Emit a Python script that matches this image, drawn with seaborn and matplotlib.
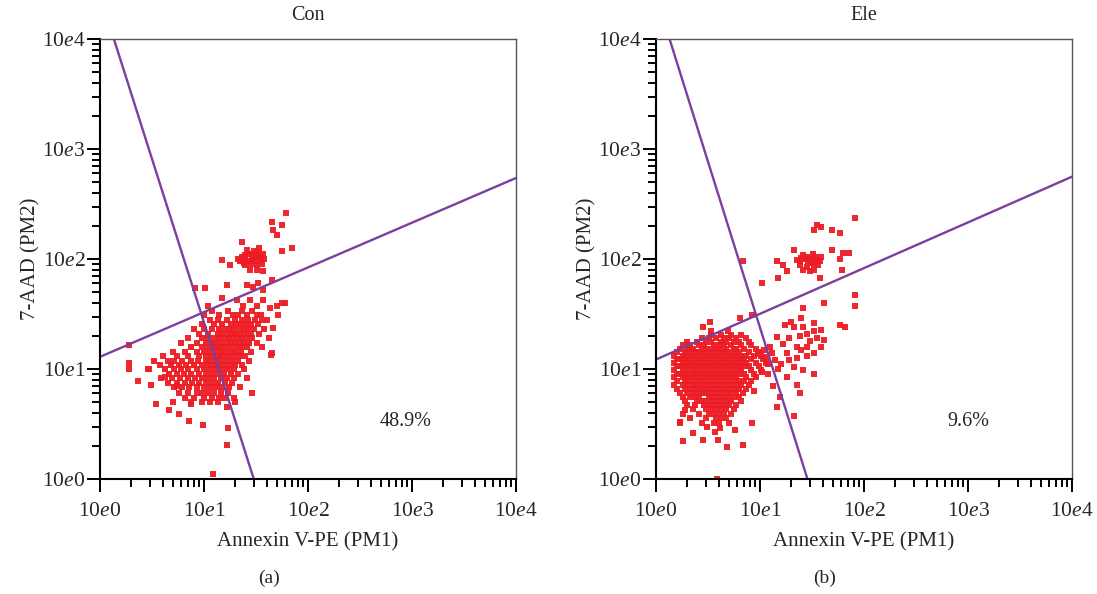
import numpy as np
import pandas as pd
import seaborn as sns
import matplotlib.pyplot as plt
from matplotlib.ticker import FixedLocator, FuncFormatter, LogLocator, NullFormatter

sns.set_style("ticks")
plt.rcParams["font.family"] = ["Liberation Serif", "DejaVu Serif"]
plt.rcParams["mathtext.fontset"] = "custom"
plt.rcParams["mathtext.it"] = "Liberation Serif:italic"
plt.rcParams["mathtext.rm"] = "Liberation Serif"

# ---- data (Annexin V-PE, 7-AAD) ----
titles = ["Con", "Ele"]
panel_tags = ["(a)", "(b)"]
percent_labels = ["48.9%", "9.6%"]

# Con: scattered events
con_upper = [(62, 260), (45, 218), (56, 204), (46, 183), (50, 165), (23, 144), (56, 117), (70, 125),
             (21, 100), (23, 105), (25, 98), (27, 110), (29, 100), (31, 95), (33, 105), (35, 98),
             (37, 112), (24, 92), (28, 90), (32, 88), (36, 90), (26, 120), (30, 118), (34, 125),
             (22, 95), (38, 100), (31, 108), (27, 95), (33, 115), (29, 112), (25, 108), (35, 104),
             (15, 98), (17.8, 88), (24.8, 88), (27.7, 79), (32, 79), (37, 77)]
con_mid = [(44.8, 64), (25.7, 58), (29.8, 56), (33, 60), (37, 52), (16.5, 58), (8.2, 54), (10.2, 54),
           (14.8, 44), (11, 37), (20.6, 42), (23.9, 37), (27.7, 42), (32, 37), (37, 42), (43, 36),
           (50, 37), (55.8, 40), (60, 40), (52, 31), (46, 23.4), (44.8, 13.9), (40, 28), (35, 31)]
con_stray = [(1.9, 11.3), (1.9, 10), (2.3, 7.8), (2.95, 10), (3.45, 4.8), (4.2, 8.5), (4.6, 4.2),
             (5.5, 7), (5.75, 3.9), (7.1, 3.4), (7.5, 4.8), (9.8, 3.1), (3.1, 7.1), (17.1, 2.9),
             (16.6, 2.05), (12.3, 1.12), (16.5, 4.5), (29.2, 6.1), (44, 13.4), (1.9, 16.5)]
# Con: dense core, one row per 7-AAD level
con_core = [
    (34, [12, 17, 23, 29]),
    (31, [10, 14, 19, 21, 26, 32]),
    (28, [11.5, 13.5, 16.5, 20, 23, 26.5, 31, 36]),
    (25.5, [9.5, 12.5, 15, 18, 20.5, 22, 25, 28, 33]),
    (23, [8, 10, 12, 14, 16, 17.5, 19, 21.5, 24, 26.5, 30, 38]),
    (21, [9, 11, 13.5, 15, 17, 18.5, 20, 22, 25, 28, 34]),
    (19, [7, 9.5, 11, 12.5, 14, 16, 17.5, 19, 21, 23, 25.5, 29, 42]),
    (17.3, [6, 8.5, 10.5, 12, 13, 14.5, 16.5, 18, 20, 22, 24, 27, 32]),
    (15.8, [7.5, 9.5, 11, 12.5, 13.5, 15, 17, 19, 21, 23, 26, 36]),
    (14.3, [5, 6.5, 8.5, 10, 11.5, 13, 14.5, 16, 18, 20, 22.5, 28]),
    (13, [4, 5.5, 7, 9, 10.5, 12, 13.5, 15, 17, 19, 21.5, 25]),
    (11.9, [3.3, 4.5, 5.2, 6.2, 7.5, 8.8, 10.5, 11.5, 13, 14.5, 16.5, 18.5, 21, 27]),
    (10.9, [3.8, 4.8, 5.7, 6.7, 8, 9.5, 11, 12.5, 14, 16, 18, 20, 23]),
    (9.9, [2.9, 4.2, 5.1, 6, 7, 8.5, 10, 11.5, 13, 15, 17, 19.5, 24]),
    (9.0, [4.6, 5.5, 6.4, 7.5, 9, 10.5, 12, 13.5, 15.5, 18, 21]),
    (8.2, [3.9, 4.9, 5.9, 7, 8.2, 9.6, 11, 12.5, 14.5, 16.5, 19.5, 26]),
    (7.5, [4.5, 5.5, 6.6, 7.6, 9, 10.5, 12, 13.5, 16, 18.5]),
    (6.8, [5.2, 6.2, 7.2, 8.5, 10, 11.5, 13, 15, 17.5, 22]),
    (6.1, [5.8, 7, 8.5, 9.5, 11, 12.5, 14.5, 17]),
    (5.5, [6.5, 8, 10, 12, 14, 16, 19.5]),
    (5.0, [5, 7.5, 9.5, 11.5, 13.5, 20]),
]

# Ele: scattered events
ele_upper = [(82, 234), (35, 204), (39, 197), (49, 183), (59, 171), (33, 183), (49, 121), (63, 113),
             (71, 113), (59, 101), (61, 79), (38, 67), (10.4, 60), (6.9, 95), (14.5, 95), (16.8, 88),
             (15, 67), (18, 77), (82, 47), (82, 37), (41, 40), (59, 25), (66, 24.3),
             (21, 121), (26, 109), (30, 101), (34, 105), (39, 105), (24, 95), (28, 85), (33, 79),
             (26, 79), (30, 77), (22.5, 98), (38, 95), (27, 100), (31, 92), (24, 88), (36, 88),
             (29, 95), (32, 110), (35, 97), (28, 104), (25, 102), (33, 90)]
ele_mid = [(26, 36), (17.4, 25), (21, 24), (25, 29), (26, 24), (33, 26), (28, 21), (33, 22),
           (39, 22.6), (41, 18.4), (39, 16), (14.5, 19.7), (16.8, 17), (22.5, 16), (28, 16), (33, 14),
           (28, 13), (22.5, 12.5), (18, 14), (21, 10.5), (26, 9.8), (33, 9.1), (18, 8.5), (22.5, 7.2),
           (24, 6), (15.6, 5.6), (13.4, 7), (21, 3.7), (14.5, 4.5), (19, 19), (24, 20), (30, 18),
           (13, 14), (16, 11), (12, 9), (14, 12), (19, 12), (25, 15), (35, 19), (20, 27),
           (12.5, 16), (15, 10), (6.4, 28.9), (3.3, 26.9), (2.85, 24.3), (3.4, 22), (4.96, 22),
           (8.3, 31), (11.5, 12.8), (10.5, 9.4), (12, 11), (9.5, 13.8), (11, 15), (8.8, 6.3)]
ele_stray = [(1.83, 2.2), (2.28, 2.6), (2.85, 2.26), (3.95, 2.26), (4.78, 1.97), (6.9, 2.04),
             (5.75, 2.8), (8.3, 3.2), (3.83, 1.01), (3.1, 3.0), (3.7, 2.7), (4.1, 2.9), (1.9, 4.2),
             (1.7, 3.3)]
# Ele: dense core, one row per 7-AAD level
ele_core = [
    (20.5, [3.4, 4.25, 5.3, 6.6]),
    (19, [2.75, 3.2, 3.8, 4.5, 5.0, 5.9, 7.4]),
    (17.7, [2.0, 2.5, 3.05, 3.4, 4.25, 4.75, 5.6, 6.3, 7.8]),
    (16.5, [1.8, 2.1, 2.6, 2.9, 3.6, 4.0, 4.5, 5.3, 6.6, 8.2]),
    (15.3, [1.7, 2.0, 2.25, 2.75, 3.05, 3.4, 3.8, 4.25, 4.75, 5.6, 5.9, 7.0, 9.2]),
    (14.2, [1.6, 1.9, 2.1, 2.35, 2.6, 2.9, 3.2, 3.6, 4.0, 4.5, 5.0, 5.6, 6.3, 7.8, 9.7]),
    (13.2, [1.5, 1.8, 2.0, 2.25, 2.5, 2.75, 3.05, 3.4, 3.8, 4.25, 4.75, 5.3, 5.9, 6.6, 7.4, 8.7, 10.3]),
    (12.3, [1.6, 1.7, 1.9, 2.1, 2.35, 2.6, 2.9, 3.2, 3.6, 4.0, 4.5, 5.0, 5.6, 6.3, 7.0, 8.2, 10.8]),
    (11.4, [1.5, 1.8, 2.0, 2.25, 2.5, 2.75, 3.05, 3.4, 3.8, 4.25, 4.75, 5.3, 5.9, 6.6, 7.4, 9.2, 11.5]),
    (10.6, [1.6, 1.7, 1.9, 2.1, 2.35, 2.6, 2.9, 3.2, 3.6, 4.0, 4.5, 5.0, 5.6, 6.3, 7.0, 7.8, 9.7]),
    (9.8, [1.5, 1.8, 2.0, 2.25, 2.5, 2.75, 3.05, 3.4, 3.8, 4.25, 4.75, 5.3, 5.9, 6.6, 8.2, 10.3]),
    (9.1, [1.6, 1.7, 1.9, 2.1, 2.35, 2.6, 2.9, 3.2, 3.6, 4.0, 4.5, 5.0, 5.6, 6.3, 7.0, 8.7]),
    (8.4, [1.5, 1.8, 2.0, 2.25, 2.5, 2.75, 3.05, 3.4, 3.8, 4.25, 4.75, 5.3, 5.9, 7.4, 9.2]),
    (7.8, [1.6, 1.9, 2.1, 2.35, 2.6, 2.9, 3.2, 3.6, 4.0, 4.5, 5.0, 5.6, 6.3, 7.0, 8.2]),
    (7.2, [1.5, 1.8, 2.0, 2.25, 2.5, 2.75, 3.05, 3.4, 3.8, 4.25, 4.75, 5.3, 5.9, 6.6, 7.8]),
    (6.6, [1.6, 1.9, 2.1, 2.35, 2.6, 2.9, 3.2, 3.6, 4.0, 4.5, 5.0, 5.6, 6.3, 7.4]),
    (6.1, [1.7, 2.0, 2.25, 2.5, 2.75, 3.05, 3.4, 3.8, 4.25, 4.75, 5.3, 5.9, 6.9]),
    (5.6, [1.8, 2.1, 2.35, 2.6, 3.2, 3.6, 4.0, 4.5, 5.0, 5.6, 6.3]),
    (5.15, [1.9, 2.5, 2.75, 3.05, 3.4, 3.8, 4.25, 4.75, 5.3, 6.6]),
    (4.7, [2.0, 2.35, 2.9, 3.2, 3.6, 4.0, 4.5, 5.0, 5.9]),
    (4.3, [2.25, 3.05, 3.4, 3.8, 4.25, 4.75, 5.6]),
    (3.9, [1.8, 2.6, 3.2, 3.6, 4.0, 4.5, 5.3]),
    (3.55, [2.1, 3.05, 3.8, 4.25, 4.75]),
    (3.2, [1.7, 2.75, 3.6, 4.0, 5.0]),
]

# quadrant gate lines (end points on the plot frame)
con_gate_v = ([1.36, 30.1], [1e4, 1])
con_gate_h = ([1, 1e4], [12.9, 545])
ele_gate_v = ([1.35, 28.6], [1e4, 1])
ele_gate_h = ([1, 1e4], [12.2, 560])
percent_pos = [(867, 3.3), (1000, 3.3)]


def build_frame(core, *groups):
    rows = [(x, y) for y, xs in core for x in xs]
    for g in groups:
        rows += list(g)
    return pd.DataFrame(rows, columns=["annexin", "aad"])


frames = [build_frame(con_core, con_upper, con_mid, con_stray),
          build_frame(ele_core, ele_upper, ele_mid, ele_stray)]
gates = [(con_gate_v, con_gate_h), (ele_gate_v, ele_gate_h)]

fig = plt.figure(figsize=(10.97, 5.94), dpi=100)
lefts = [100 / 1097, 656 / 1097]
tag_x = [269 / 1097, 825 / 1097]

decade_fmt = FuncFormatter(lambda v, p: "10$e$%d" % int(round(np.log10(v))))

for i in range(2):
    ax = fig.add_axes([lefts[i], 115 / 594, 416 / 1097, 440 / 594])
    sns.scatterplot(data=frames[i], x="annexin", y="aad", ax=ax, color="#ec1c24",
                    marker="s", s=13, linewidth=0, alpha=0.95, legend=False)
    gv, gh = gates[i]
    ax.plot(gv[0], gv[1], color="#7b3f9e", lw=1.7)
    ax.plot(gh[0], gh[1], color="#7b3f9e", lw=1.7)

    ax.set_xscale("log")
    ax.set_yscale("log")
    ax.set_xlim(1, 1e4)
    ax.set_ylim(1, 1e4)
    for axis in (ax.xaxis, ax.yaxis):
        axis.set_major_locator(FixedLocator([1, 10, 100, 1000, 10000]))
        axis.set_major_formatter(decade_fmt)
        axis.set_minor_locator(LogLocator(base=10, subs=range(2, 10)))
        axis.set_minor_formatter(NullFormatter())
    ax.tick_params(which="major", length=9.5, width=1.4, color="black", labelsize=15.5)
    ax.tick_params(which="minor", length=6, width=1.4, color="black")
    ax.tick_params(axis="x", which="major", pad=7)
    ax.tick_params(axis="y", which="major", pad=1)

    for side in ["left", "bottom"]:
        ax.spines[side].set_linewidth(1.5)
        ax.spines[side].set_color("black")
    for side in ["top", "right"]:
        ax.spines[side].set_visible(True)
        ax.spines[side].set_linewidth(1.0)
        ax.spines[side].set_color("#555555")

    ax.set_title(titles[i], fontsize=14.5, pad=13.5)
    ax.set_xlabel("Annexin V-PE (PM1)", fontsize=15, labelpad=8)
    ax.set_ylabel("7-AAD (PM2)", fontsize=15, labelpad=1)
    ax.text(percent_pos[i][0], percent_pos[i][1], percent_labels[i], fontsize=14.5,
            ha="center", va="center")
    fig.text(tag_x[i], 1 - 578 / 594, panel_tags[i], fontsize=14, ha="center", va="center")

fig.savefig("out.png", dpi=100)
